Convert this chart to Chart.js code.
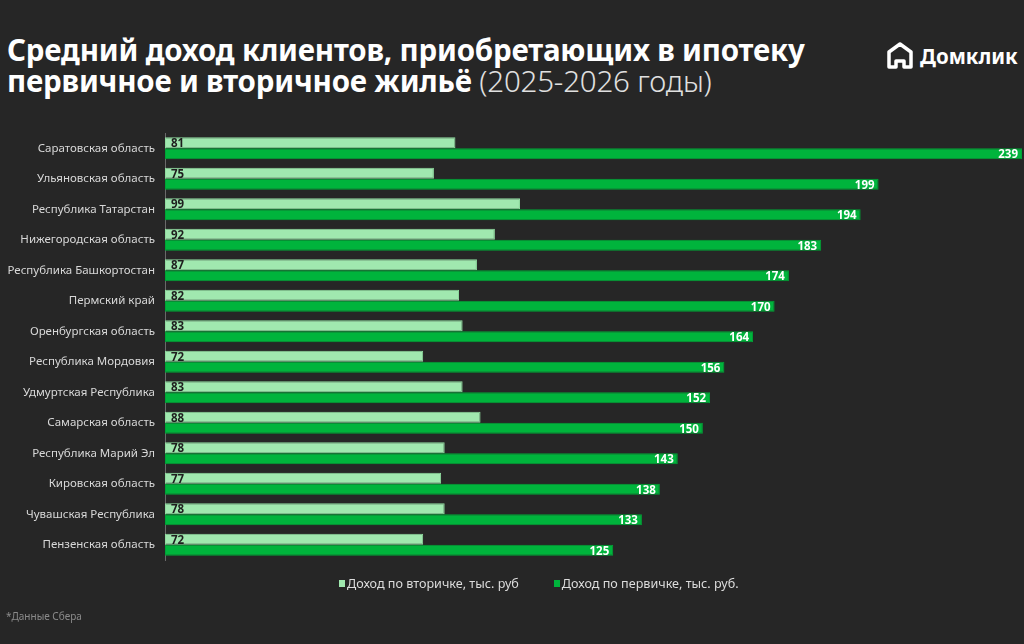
<!DOCTYPE html>
<html lang="ru">
<head>
<meta charset="utf-8">
<script src="https://cdn.jsdelivr.net/npm/chart.js@4.4.1/dist/chart.umd.min.js"></script>
<style>
  html, body { margin: 0; padding: 0; background: #262626; }
  body { width: 1024px; height: 644px; position: relative; overflow: hidden; font-family: 'Noto Sans', sans-serif; }
  #chart { position: absolute; left: 0; top: 0; }
  .title { position: absolute; left: 7px; top: 34px; color: #fff; font-size: 29.5px; font-weight: 700; line-height: 31px; letter-spacing: -0.2px; }
  .title .light { font-weight: 300; color: #e0e0e0; }
  .logo { position: absolute; left: 887px; top: 42px; display: flex; align-items: center; color: #fff; font-weight: 700; font-size: 20.5px; }
  .logo svg { margin-right: 7px; }
  .legend { position: absolute; top: 575px; left: 339px; display: flex; color: #dcdcdc; font-size: 12.6px; }
  .legend .item { display: flex; align-items: center; margin-right: 35px; }
  .legend .box { width: 6px; height: 7px; margin-right: 2px; }
  .note { position: absolute; left: 6px; top: 609px; color: #8a8a8a; font-size: 10px; }
</style>
</head>
<body>
<div class="title">Средний доход клиентов, приобретающих в ипотеку<br>первичное и вторичное жильё <span class="light">(2025-2026 годы)</span></div>
<div class="logo">
  <svg width="26" height="28" viewBox="0 0 26 28">
    <path d="M13 2 L24 10 L24 25 L17 25 L17 19 L9 19 L9 25 L2 25 L2 10 Z" fill="none" stroke="#fff" stroke-width="3.5" stroke-linejoin="round"/>
  </svg>
  <span>Домклик</span>
</div>
<canvas id="chart" width="1024" height="644"></canvas>
<div class="legend" id="legend"></div>
<div class="note">*Данные Сбера</div>
<script>
/* ── Data ── */
const regions = [
  'Саратовская область', 'Ульяновская область', 'Республика Татарстан', 'Нижегородская область',
  'Республика Башкортостан', 'Пермский край', 'Оренбургская область', 'Республика Мордовия',
  'Удмуртская Республика', 'Самарская область', 'Республика Марий Эл', 'Кировская область',
  'Чувашская Республика', 'Пензенская область'
];
const secondaryIncome = [81, 75, 99, 92, 87, 82, 83, 72, 83, 88, 78, 77, 78, 72];
const primaryIncome = [239, 199, 194, 183, 174, 170, 164, 156, 152, 150, 143, 138, 133, 125];
const seriesLabels = ['Доход по вторичке, тыс. руб', 'Доход по первичке, тыс. руб.'];

const LIGHT = '#a0e8af';
const DARK = '#00b43c';

/* ── Value labels plugin ── */
const valueLabels = {
  id: 'valueLabels',
  afterDatasetsDraw(chart) {
    const ctx = chart.ctx;
    ctx.save();
    ctx.font = "700 11.5px 'Noto Sans', sans-serif";
    ctx.textBaseline = 'middle';
    chart.data.datasets.forEach((ds, i) => {
      chart.getDatasetMeta(i).data.forEach((bar, j) => {
        const v = ds.data[j];
        if (i === 0) {
          ctx.fillStyle = '#1e1e1e';
          ctx.textAlign = 'left';
          ctx.fillText(v, bar.base + 6, bar.y + 1);
        } else {
          ctx.fillStyle = '#ffffff';
          ctx.textAlign = 'right';
          ctx.fillText(v, bar.x - 4, bar.y + 1);
        }
      });
    });
    ctx.restore();
  }
};

const chart = new Chart(document.getElementById('chart'), {
  type: 'bar',
  data: {
    labels: regions,
    datasets: [
      { label: seriesLabels[0], data: secondaryIncome, backgroundColor: LIGHT, borderColor: '#8fdc9f', borderWidth: 1, borderSkipped: false },
      { label: seriesLabels[1], data: primaryIncome, backgroundColor: DARK, borderColor: '#00a336', borderWidth: 1, borderSkipped: false }
    ]
  },
  options: {
    indexAxis: 'y',
    responsive: false,
    animation: false,
    layout: { padding: { top: 133, bottom: 84, right: 2, left: 0 } },
    datasets: { bar: { categoryPercentage: 0.72, barPercentage: 1.0 } },
    plugins: { legend: { display: false }, tooltip: { enabled: false } },
    scales: {
      x: { min: 0, max: 239, display: false },
      y: {
        grid: { display: false },
        border: { display: true, color: '#6a6a6a', width: 1 },
        ticks: { color: '#d8d8d8', font: { family: 'Noto Sans', size: 11.5 }, padding: 2 },
        afterFit: s => { s.width = 165; }
      }
    }
  },
  plugins: [valueLabels]
});

/* ── HTML legend ── */
const legendEl = document.getElementById('legend');
chart.data.datasets.forEach(ds => {
  const item = document.createElement('div');
  item.className = 'item';
  item.innerHTML = `<span class="box" style="background:${ds.backgroundColor}"></span><span>${ds.label}</span>`;
  legendEl.appendChild(item);
});
</script>
</body>
</html>
